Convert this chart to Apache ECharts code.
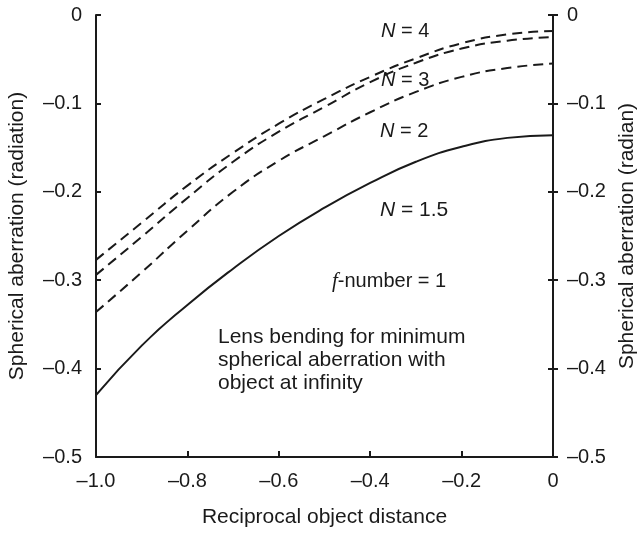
<!DOCTYPE html>
<html>
<head>
<meta charset="utf-8">
<script src="https://cdn.jsdelivr.net/npm/echarts@6/dist/echarts.min.js"></script>
<style>
  html, body { margin: 0; padding: 0; background: #fff; }
  #chart { width: 641px; height: 533px; }
</style>
</head>
<body>
<div id="chart"></div>
<script>
// reciprocal object distance
var xValues = [-1.0, -0.9, -0.8, -0.7, -0.6, -0.5, -0.4, -0.3, -0.2, -0.1, 0];
// spherical aberration curves
var curveSolid = [-0.430, -0.374, -0.328, -0.287, -0.250, -0.218, -0.190, -0.166, -0.149, -0.139, -0.136];
var curveDash3 = [-0.336, -0.291, -0.244, -0.200, -0.165, -0.137, -0.110, -0.087, -0.070, -0.060, -0.055];
var curveDash2 = [-0.294, -0.251, -0.207, -0.166, -0.132, -0.104, -0.076, -0.054, -0.038, -0.029, -0.025];
var curveDash1 = [-0.277, -0.235, -0.193, -0.156, -0.123, -0.095, -0.070, -0.049, -0.032, -0.022, -0.018];

var font = "'Liberation Sans', Arial, sans-serif";
var ink = "#1a1a1a";

function pairs(ys) {
    return xValues.map(function (x, i) { return [x, ys[i]]; });
}
function dashNum(v, d) {
    return v === 0 ? "0" : "\u2013" + Math.abs(v).toFixed(d);
}

function yAxisDef(pos, inside, showLabel, name) {
    return {
        type: "value",
        position: pos,
        min: -0.5,
        max: 0,
        interval: 0.1,
        name: name || "",
        nameLocation: "middle",
        nameRotate: 90,
        nameGap: pos === "left" ? 68 : 64,
        nameTextStyle: { fontFamily: font, fontSize: 21, color: ink },
        axisLine: { show: true, lineStyle: { color: ink, width: 2 } },
        axisTick: { show: true, inside: inside, length: 5, lineStyle: { color: ink, width: 2 } },
        axisLabel: {
            show: showLabel,
            margin: 14,
            fontFamily: font,
            fontSize: 20,
            color: ink,
            formatter: function (v) { return dashNum(v, 1); }
        },
        splitLine: { show: false }
    };
}

var dom = document.getElementById("chart");
var myChart = echarts.init(dom, null, { renderer: "canvas" });

var italic = { fontStyle: "italic", fontFamily: font, fontSize: 20, fill: ink };

var option = {
    animation: false,
    backgroundColor: "#fff",
    grid: { left: 96, right: 88, top: 15, bottom: 76, containLabel: false, outerBoundsMode: "none" },
    xAxis: {
        type: "value",
        min: -1,
        max: 0,
        interval: 0.2,
        name: "Reciprocal object distance",
        nameLocation: "middle",
        nameGap: 50,
        nameTextStyle: { fontFamily: font, fontSize: 21, color: ink },
        axisLine: { show: true, onZero: false, lineStyle: { color: ink, width: 2 } },
        axisTick: { show: true, inside: true, length: 6, lineStyle: { color: ink, width: 2 } },
        axisLabel: {
            margin: 14,
            fontFamily: font,
            fontSize: 20,
            color: ink,
            formatter: function (v) { return dashNum(v, 1); }
        },
        splitLine: { show: false }
    },
    yAxis: [
        yAxisDef("left", false, true, "Spherical aberration (radiation)"),
        yAxisDef("left", true, false),
        yAxisDef("right", false, true, "Spherical aberration (radian)"),
        yAxisDef("right", true, false)
    ],
    series: [
        { type: "line", data: pairs(curveSolid), smooth: 0.5, symbol: "none",
          lineStyle: { color: ink, width: 2, type: "solid" } },
        { type: "line", data: pairs(curveDash3), smooth: 0.5, symbol: "none",
          lineStyle: { color: ink, width: 2, type: [10, 6] } },
        { type: "line", data: pairs(curveDash2), smooth: 0.5, symbol: "none",
          lineStyle: { color: ink, width: 2, type: [10, 6] } },
        { type: "line", data: pairs(curveDash1), smooth: 0.5, symbol: "none",
          lineStyle: { color: ink, width: 2, type: [10, 6] } }
    ],
    graphic: [
        { type: "text", left: 381, top: 21, style: { text: "{i|N} = 4", fontFamily: font, fontSize: 20, fill: ink, rich: { i: italic } } },
        { type: "text", left: 381, top: 70, style: { text: "{i|N} = 3", fontFamily: font, fontSize: 20, fill: ink, rich: { i: italic } } },
        { type: "text", left: 380, top: 121, style: { text: "{i|N} = 2", fontFamily: font, fontSize: 20, fill: ink, rich: { i: italic } } },
        { type: "text", left: 380, top: 200, style: { text: "{i|N} = 1.5", fontFamily: font, fontSize: 21, fill: ink,
          rich: { i: { fontStyle: "italic", fontFamily: font, fontSize: 21, fill: ink } } } },
        { type: "text", left: 332, top: 271, style: { text: "{i|f}-number = 1", fontFamily: font, fontSize: 20, fill: ink,
          rich: { i: { fontStyle: "italic", fontFamily: "'Liberation Serif', serif", fontSize: 21, fill: ink } } } },
        { type: "text", left: 218, top: 326, style: {
            text: "Lens bending for minimum\nspherical aberration with\nobject at infinity",
            fontFamily: font, fontSize: 21, lineHeight: 23, fill: ink } }
    ]
};

option && typeof option === "object" && myChart.setOption(option, true);
</script>
</body>
</html>
